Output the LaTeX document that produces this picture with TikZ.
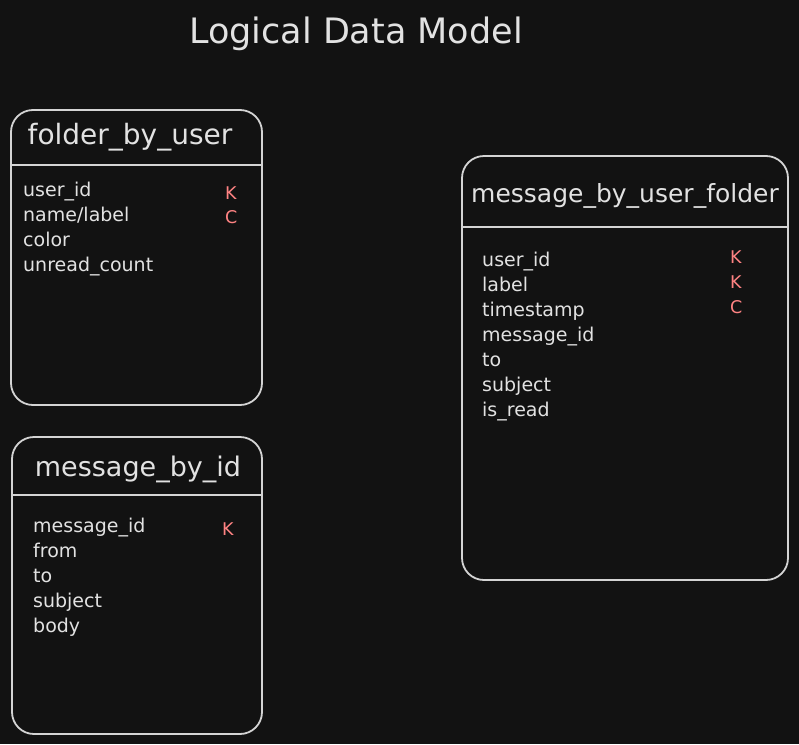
\documentclass[tikz,border=0pt]{standalone}
\usepackage{fontspec}
\setmainfont{DejaVu Sans}
\definecolor{bg}{HTML}{121212}
\definecolor{ink}{HTML}{E2E2E2}
\definecolor{line}{HTML}{D4D4D4}
\definecolor{keyc}{HTML}{FF8383}
\tikzset{
  x=1pt, y=-1pt,
  tbl/.style={draw=line, line width=1.8pt, rounded corners=22pt},
  divider/.style={draw=line, line width=2pt},
  tbltitle/.style={anchor=base, text=ink, inner sep=0pt, font=\fontsize{27}{32}\selectfont},
  field/.style={anchor=base west, text=ink, inner sep=0pt, font=\fontsize{19}{22}\selectfont},
  keymark/.style={anchor=base west, text=keyc, inner sep=0pt, font=\fontsize{17.5}{20}\selectfont},
  heading/.style={anchor=base, text=ink, inner sep=0pt, font=\fontsize{35}{40}\selectfont}
}
\begin{document}
\begin{tikzpicture}
\fill[bg] (0,0) rectangle (799,744);
\useasboundingbox (0,0) rectangle (799,744);

\node[heading] (title) at (356,43) {Logical Data Model};

% folder_by_user
\draw[tbl] (11,110) rectangle (262,405);
\coordinate (d1a) at (10,164.5);
\coordinate (d1b) at (262,164.5);
\draw[divider] (d1a) -- (d1b);
\node[tbltitle, font=\fontsize{28}{32}\selectfont] (t1) at (130,144) {folder\_by\_user};
\node[field] (f1a) at (23,196) {user\_id};
\node[field] (f1b) at (23,221) {name/label};
\node[field] (f1c) at (23,246) {color};
\node[field] (f1d) at (23,271) {unread\_count};
\node[keymark] (k1a) at (225,199) {K};
\node[keymark] (k1b) at (225,223) {C};

% message_by_id
\draw[tbl] (12,437) rectangle (262,734);
\coordinate (d2a) at (11,494.5);
\coordinate (d2b) at (261,494.5);
\draw[divider] (d2a) -- (d2b);
\node[tbltitle] (t2) at (138,476) {message\_by\_id};
\node[field] (f2a) at (33,532) {message\_id};
\node[field] (f2b) at (33,557) {from};
\node[field] (f2c) at (33,582) {to};
\node[field] (f2d) at (33,607) {subject};
\node[field] (f2e) at (33,632) {body};
\node[keymark] (k2a) at (222,535) {K};

% message_by_user_folder
\draw[tbl] (462,156) rectangle (788,580);
\coordinate (d3a) at (461,226.5);
\coordinate (d3b) at (789,226.5);
\draw[divider] (d3a) -- (d3b);
\node[tbltitle, font=\fontsize{25}{30}\selectfont] (t3) at (625,202) {message\_by\_user\_folder};
\node[field] (f3a) at (482,266) {user\_id};
\node[field] (f3b) at (482,291) {label};
\node[field] (f3c) at (482,316) {timestamp};
\node[field] (f3d) at (482,341) {message\_id};
\node[field] (f3e) at (482,366) {to};
\node[field] (f3f) at (482,391) {subject};
\node[field] (f3g) at (482,416) {is\_read};
\node[keymark] (k3a) at (730,263) {K};
\node[keymark] (k3b) at (730,288) {K};
\node[keymark] (k3c) at (730,313) {C};
\end{tikzpicture}
\end{document}
